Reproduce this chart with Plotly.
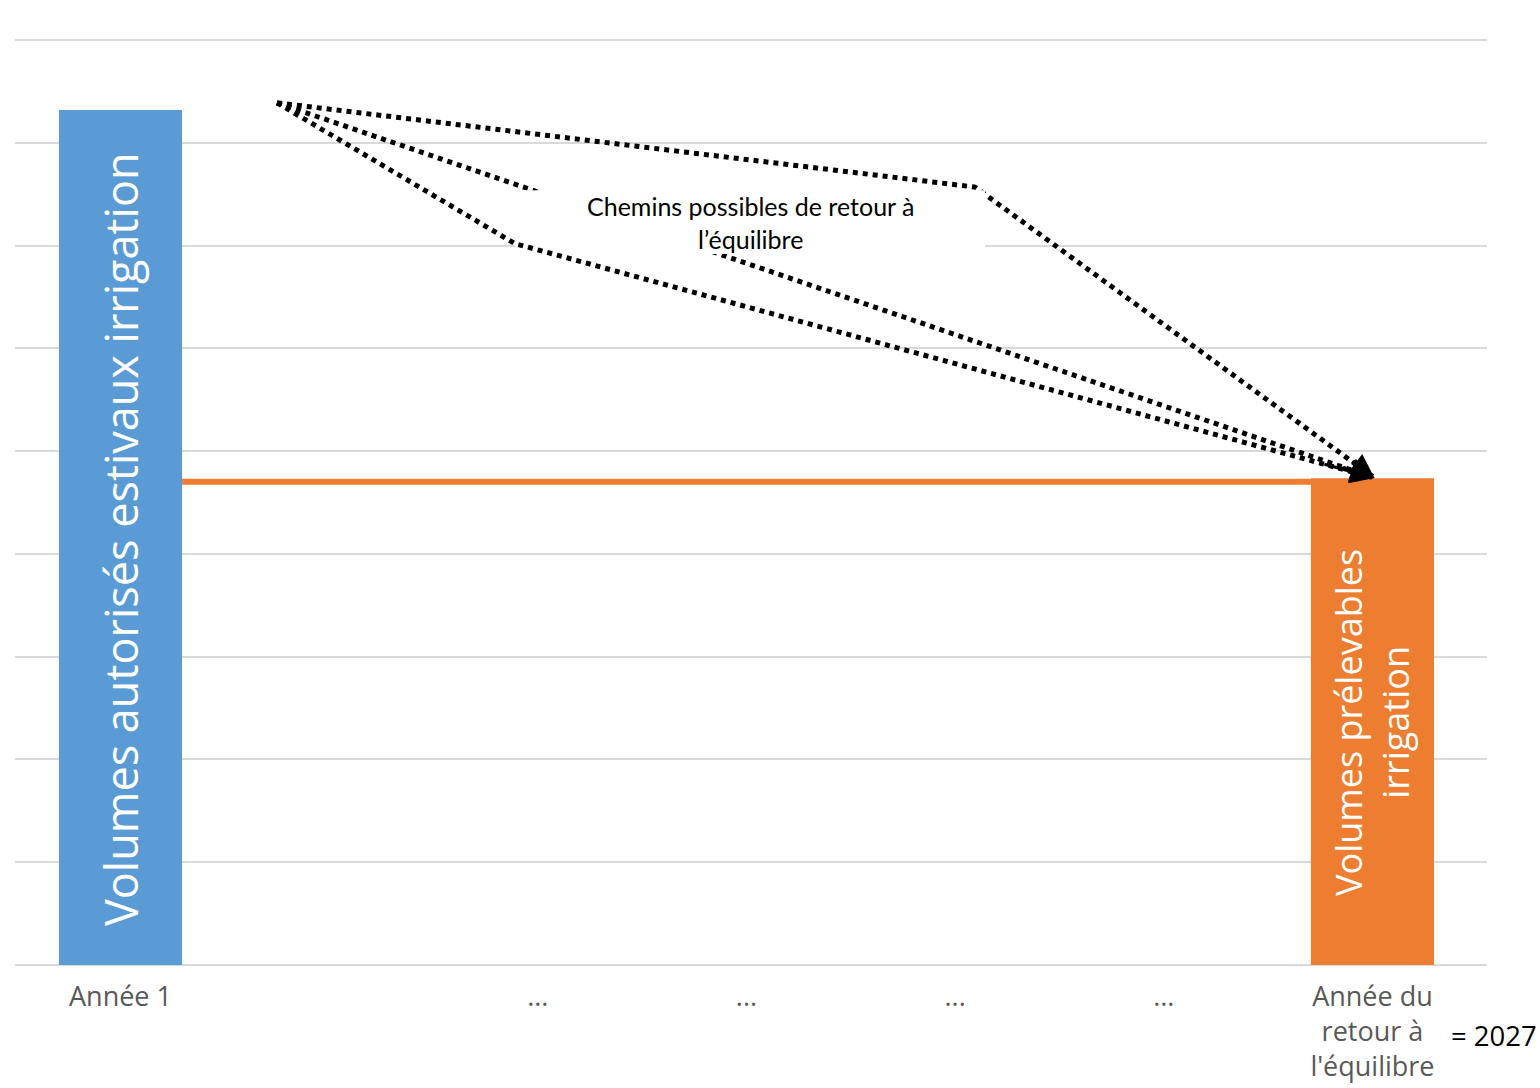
import plotly.graph_objects as go

# Category positions and tick labels along the time axis
positions = [0, 1, 2, 3, 4, 5, 6]
tick_labels = ["Année 1", "", "...", "...", "...", "...",
               "Année du<br>retour à<br>l'équilibre"]

# Bar values: authorised summer volumes (first year) and withdrawable volumes (target year)
authorised_x = [0]
authorised_y = [8.32]
target_x = [6]
target_y = [4.736]
target_level = 4.703

BAR_WIDTH = 0.59

# Possible paths back to balance (data coordinates)
path_start = (0.75, 8.39)
path_end = (6.01, 4.74)
path_top_bend = (4.095, 7.57)
path_low_bend = (1.89, 7.02)

# White backdrop behind the caption (data coordinates)
caption_x = 3.017
caption_y = 7.23
caption_box_x = [1.89, 4.143]
caption_box_y = [6.92, 7.54]

BLUE = "#5B9BD5"
ORANGE = "#ED7D31"
FONT = "Open Sans"

fig = go.Figure()

# Target level line between the two bars
fig.add_trace(go.Scatter(
    x=[authorised_x[0] + BAR_WIDTH / 2, target_x[0] - BAR_WIDTH / 2],
    y=[target_level, target_level],
    mode="lines", line=dict(color=ORANGE, width=6),
    hoverinfo="skip", showlegend=False,
))

fig.add_trace(go.Bar(x=authorised_x, y=authorised_y, width=BAR_WIDTH,
                     marker=dict(color=BLUE, line=dict(width=0)), showlegend=False))
fig.add_trace(go.Bar(x=target_x, y=target_y, width=BAR_WIDTH,
                     marker=dict(color=ORANGE, line=dict(width=0)), showlegend=False))

# Dotted paths: the upper two pass behind the caption, the lower one in front
paths_behind = [
    [path_start, path_top_bend, path_end],
    [path_start, path_end],
]
path_front = [path_start, path_low_bend, path_end]


def add_path(p):
    fig.add_trace(go.Scatter(
        x=[pt[0] for pt in p], y=[pt[1] for pt in p],
        mode="lines", line=dict(color="black", width=5, dash="dot"),
        hoverinfo="skip", showlegend=False,
    ))


for p in paths_behind:
    add_path(p)

fig.add_trace(go.Scatter(
    x=[caption_box_x[0], caption_box_x[1], caption_box_x[1], caption_box_x[0], caption_box_x[0]],
    y=[caption_box_y[0], caption_box_y[0], caption_box_y[1], caption_box_y[1], caption_box_y[0]],
    mode="lines", fill="toself", fillcolor="white", line=dict(width=0, color="white"),
    hoverinfo="skip", showlegend=False,
))

add_path(path_front)

annotations = []
# Arrowheads at the end of each path
for p in paths_behind + [path_front]:
    prev = p[-2]
    frac = 0.06 if len(p) == 3 else 0.03
    ax = path_end[0] - (path_end[0] - prev[0]) * frac
    ay = path_end[1] - (path_end[1] - prev[1]) * frac
    annotations.append(dict(
        x=path_end[0], y=path_end[1], ax=ax, ay=ay,
        xref="x", yref="y", axref="x", ayref="y",
        showarrow=True, arrowhead=2, arrowsize=1.6, arrowwidth=3,
        arrowcolor="black", standoff=0, text="",
    ))

# Labels inside the bars
annotations.append(dict(
    x=authorised_x[0], y=4.14, xref="x", yref="y",
    text="Volumes autorisés estivaux irrigation", textangle=-90,
    showarrow=False, font=dict(family=FONT, size=45, color="white"),
))
annotations.append(dict(
    x=target_x[0], y=2.36, xref="x", yref="y",
    text="Volumes prélevables<br>irrigation", textangle=-90,
    showarrow=False, font=dict(family=FONT, size=36, color="white"),
))

# Paths caption
annotations.append(dict(
    x=caption_x, y=caption_y, xref="x", yref="y",
    text="Chemins possibles de retour à<br>l’équilibre",
    showarrow=False,
    font=dict(family="Lato", size=25, color="black"),
))

W, H = 1540, 1088
ML, MR, MT, MB = 15, 53, 35, 123
pw, ph = W - ML - MR, H - MT - MB

# Target year note
annotations.append(dict(
    x=(1494 - ML) / pw, y=(H - MB - 1035) / ph, xref="paper", yref="paper",
    xanchor="center", yanchor="middle",
    text="= 2027", showarrow=False,
    font=dict(family=FONT, size=27.5, color="black"),
))

fig.update_layout(
    annotations=annotations,
    width=W, height=H,
    margin=dict(l=ML, r=MR, t=MT, b=MB),
    paper_bgcolor="white", plot_bgcolor="white",
    barmode="overlay",
    xaxis=dict(
        range=[-0.5056, 6.549], tickvals=positions, ticktext=tick_labels,
        showgrid=False, zeroline=False, showline=False, ticks="",
        ticklabelstandoff=13, automargin=False,
        tickfont=dict(family=FONT, size=27, color="#595959"),
    ),
    yaxis=dict(
        range=[0, 9.05], tickvals=list(range(10)), showticklabels=False,
        showgrid=True, gridcolor="#d9d9d9", gridwidth=2,
        zeroline=True, zerolinecolor="#d9d9d9", zerolinewidth=2,
        showline=False, ticks="", automargin=False,
    ),
)

fig.write_html("out.html")
